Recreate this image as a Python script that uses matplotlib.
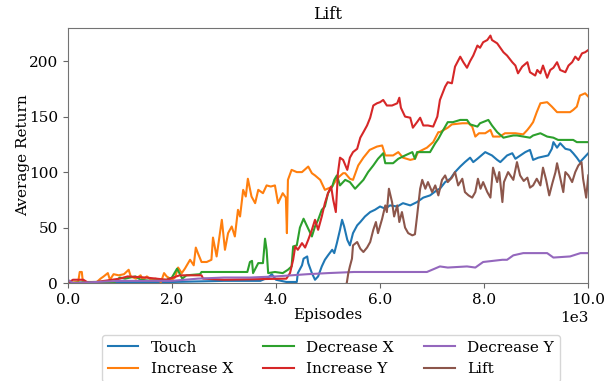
import matplotlib
matplotlib.use('Agg')
import matplotlib.pyplot as plt
import numpy as np
from matplotlib.ticker import ScalarFormatter

# values: (episode, average return)
touch = [(0, 0), (1000, 1), (2000, 1), (3000, 2), (3700, 2), (3850, 5), (3920, 8), (4000, 3),
         (4200, 1), (4400, 1), (4420, 9), (4500, 16), (4530, 22), (4600, 24), (4620, 18),
         (4690, 9), (4750, 3), (4810, 6), (4880, 15), (4940, 21), (5000, 25), (5080, 30),
         (5120, 27), (5170, 36), (5230, 48), (5270, 57), (5310, 51), (5370, 39), (5420, 34),
         (5480, 45), (5560, 52), (5620, 55), (5710, 60), (5810, 64), (5900, 66), (6000, 69),
         (6100, 67), (6190, 70), (6330, 69), (6440, 72), (6580, 70), (6710, 73), (6830, 77),
         (6960, 79), (7100, 84), (7150, 85), (7250, 91), (7350, 94), (7440, 100), (7540, 105),
         (7630, 109), (7730, 113), (7790, 109), (7870, 112), (8020, 118), (8150, 115),
         (8250, 111), (8310, 109), (8440, 115), (8540, 117), (8600, 112), (8790, 118),
         (8880, 120), (8940, 111), (9040, 113), (9230, 115), (9300, 121), (9330, 127),
         (9400, 122), (9460, 126), (9560, 121), (9650, 120), (9710, 117), (9780, 113),
         (9840, 109), (9900, 112), (10000, 117)]

increase_x = [(0, 0), (200, 1), (230, 10), (270, 10), (290, 1), (560, 1), (630, 4), (690, 6),
              (770, 9), (810, 3), (880, 8), (980, 7), (1080, 8), (1170, 12), (1210, 6),
              (1310, 4), (1400, 7), (1440, 3), (1520, 6), (1600, 3), (1690, 4), (1790, 1),
              (1850, 9), (1900, 6), (2000, 3), (2060, 5), (2120, 14), (2190, 9), (2250, 13),
              (2350, 21), (2420, 16), (2460, 32), (2500, 27), (2570, 19), (2670, 19), (2760, 21),
              (2790, 41), (2860, 24), (2960, 57), (3020, 30), (3080, 45), (3150, 51), (3210, 42),
              (3270, 66), (3310, 60), (3370, 84), (3420, 78), (3460, 94), (3530, 78), (3600, 72),
              (3660, 84), (3750, 81), (3820, 88), (3900, 87), (3980, 88), (4040, 72), (4130, 81),
              (4190, 77), (4210, 45), (4230, 93), (4300, 102), (4400, 100), (4500, 100),
              (4620, 105), (4690, 99), (4750, 97), (4850, 93), (4940, 84), (5040, 86), (5080, 87),
              (5170, 94), (5290, 99), (5330, 99), (5420, 94), (5480, 93), (5580, 106), (5680, 113),
              (5800, 120), (5940, 123), (6040, 124), (6100, 115), (6250, 115), (6350, 118),
              (6440, 113), (6580, 111), (6670, 112), (6730, 118), (6900, 122), (7020, 127),
              (7120, 136), (7150, 136), (7300, 140), (7380, 143), (7580, 144), (7700, 144),
              (7770, 141), (7830, 132), (7900, 135), (8020, 135), (8120, 138), (8170, 132),
              (8300, 132), (8400, 135), (8600, 135), (8750, 134), (8830, 138), (8880, 141),
              (8940, 145), (9010, 154), (9080, 162), (9210, 163), (9300, 159), (9400, 154),
              (9520, 154), (9650, 154), (9710, 156), (9780, 159), (9840, 169), (9940, 171),
              (10000, 168)]

decrease_x = [(0, 0), (500, 1), (900, 1), (1000, 5), (1100, 4), (1300, 6), (1400, 3), (1600, 2),
              (1900, 3), (2000, 5), (2100, 13), (2200, 4), (2280, 7), (2540, 8), (2570, 10),
              (3450, 10), (3500, 19), (3540, 20), (3560, 9), (3660, 18), (3750, 18), (3790, 40),
              (3820, 30), (3850, 9), (3980, 10), (4130, 9), (4230, 12), (4300, 15), (4330, 33),
              (4400, 34), (4460, 50), (4530, 58), (4600, 51), (4690, 42), (4750, 51), (4810, 57),
              (4880, 66), (4940, 69), (5000, 81), (5080, 87), (5120, 93), (5170, 97), (5230, 88),
              (5330, 93), (5420, 91), (5520, 85), (5580, 88), (5680, 93), (5770, 100), (5870, 106),
              (5960, 112), (6060, 117), (6100, 108), (6250, 108), (6350, 112), (6480, 115),
              (6620, 118), (6670, 112), (6710, 118), (6960, 118), (7060, 126), (7120, 130),
              (7190, 136), (7300, 145), (7400, 145), (7540, 147), (7670, 147), (7730, 143),
              (7870, 141), (7920, 144), (8080, 147), (8150, 142), (8250, 136), (8370, 131),
              (8460, 132), (8560, 133), (8630, 133), (8880, 131), (8940, 133), (9080, 135),
              (9210, 132), (9330, 131), (9420, 129), (9710, 129), (9780, 127), (10000, 127)]

increase_y = [(0, 0), (100, 3), (300, 3), (400, 0), (1000, 4), (1150, 6), (1500, 5), (1900, 3),
              (2150, 7), (2570, 7), (2600, 4), (3000, 3), (4200, 4), (4270, 9), (4330, 21),
              (4370, 33), (4420, 30), (4500, 36), (4560, 32), (4620, 39), (4690, 48), (4750, 57),
              (4810, 48), (4880, 60), (4940, 72), (5000, 81), (5060, 87), (5100, 75), (5150, 64),
              (5190, 99), (5230, 113), (5290, 111), (5370, 102), (5420, 113), (5480, 118),
              (5560, 121), (5620, 131), (5680, 136), (5750, 142), (5810, 149), (5870, 160),
              (5940, 162), (6000, 163), (6060, 165), (6130, 160), (6230, 160), (6330, 162),
              (6370, 167), (6400, 158), (6480, 150), (6580, 149), (6630, 140), (6710, 145),
              (6770, 149), (6830, 142), (6920, 142), (7020, 141), (7100, 150), (7150, 165),
              (7250, 177), (7300, 181), (7380, 180), (7440, 195), (7540, 204), (7600, 199),
              (7670, 194), (7730, 200), (7790, 205), (7870, 214), (7920, 212), (7980, 217),
              (8060, 219), (8120, 223), (8150, 219), (8250, 216), (8310, 212), (8370, 208),
              (8440, 205), (8540, 199), (8600, 196), (8650, 189), (8730, 195), (8830, 199),
              (8880, 190), (8980, 187), (9020, 192), (9080, 189), (9130, 196), (9210, 185),
              (9270, 192), (9330, 194), (9400, 199), (9460, 192), (9560, 190), (9620, 196),
              (9690, 199), (9750, 204), (9810, 201), (9880, 207), (9940, 208), (10000, 210)]

decrease_y = [(0, 3), (100, 0), (1000, 2), (2000, 2), (2500, 4), (3000, 5), (3500, 5), (4000, 6),
              (4600, 8), (5000, 9), (5500, 10), (6000, 10), (6900, 10), (7000, 12), (7150, 15),
              (7300, 14), (7670, 15), (7830, 14), (7980, 19), (8350, 21), (8440, 21), (8560, 25),
              (8750, 27), (9210, 27), (9330, 23), (9650, 24), (9850, 27), (10000, 27)]

lift = [(0, -3), (5300, -3), (5360, 0), (5390, 9), (5420, 15), (5460, 22), (5480, 34), (5560, 37),
        (5620, 31), (5680, 28), (5750, 32), (5810, 37), (5870, 48), (5920, 55), (5960, 45),
        (6040, 58), (6100, 70), (6130, 64), (6170, 85), (6230, 73), (6270, 60), (6330, 70),
        (6370, 55), (6420, 64), (6480, 50), (6540, 45), (6620, 43), (6670, 44), (6710, 60),
        (6770, 85), (6810, 93), (6870, 85), (6920, 91), (7000, 82), (7060, 88), (7120, 79),
        (7190, 93), (7250, 97), (7300, 91), (7380, 95), (7440, 100), (7500, 88), (7580, 94),
        (7630, 82), (7700, 79), (7770, 77), (7830, 82), (7880, 94), (7930, 85), (7980, 91),
        (8060, 82), (8120, 77), (8170, 104), (8250, 91), (8290, 100), (8350, 73), (8380, 91),
        (8460, 100), (8560, 93), (8630, 109), (8690, 97), (8760, 92), (8830, 95), (8880, 86),
        (8940, 88), (9010, 94), (9080, 88), (9130, 104), (9190, 93), (9250, 79), (9310, 90),
        (9370, 100), (9400, 108), (9460, 95), (9520, 82), (9560, 100), (9620, 97), (9690, 91),
        (9750, 100), (9810, 106), (9870, 109), (9900, 94), (9960, 77), (10000, 97)]

series = [('Touch', touch), ('Increase X', increase_x), ('Decrease X', decrease_x),
          ('Increase Y', increase_y), ('Decrease Y', decrease_y), ('Lift', lift)]


class ThousandsFormatter(ScalarFormatter):
    # show ticks as 0.0, 2.0, ... with a "1e3" offset label
    def _set_order_of_magnitude(self):
        self.orderOfMagnitude = 3

    def _set_format(self):
        self.format = '%1.1f'


plt.rcParams['font.family'] = ['DejaVu Serif']

fig = plt.figure(figsize=(6.16, 3.81), dpi=100)
ax = fig.add_axes([0.110, 0.257, 0.845, 0.670])

for name, pts in series:
    xs, ys = np.array(pts, dtype=float).T
    ax.plot(xs, ys, label=name, linewidth=1.5)

ax.set_xlim(0, 10000)
ax.set_ylim(0, 230)
ax.set_xticks([0, 2000, 4000, 6000, 8000, 10000])
ax.set_yticks([0, 50, 100, 150, 200])
ax.xaxis.set_major_formatter(ThousandsFormatter(useMathText=False))

ax.set_title('Lift', fontsize=12)
ax.set_xlabel('Episodes', fontsize=11, labelpad=1)
ax.set_ylabel('Average Return', fontsize=11, labelpad=-1)
ax.tick_params(labelsize=11, color='0.4')
ax.xaxis.get_offset_text().set_fontsize(11)
for sp in ax.spines.values():
    sp.set_color('0.45')

fig.legend(loc='upper center', bbox_to_anchor=(0.537, 0.142), ncol=3, fontsize=11,
           columnspacing=2.0)

fig.savefig('out.png', dpi=100)
